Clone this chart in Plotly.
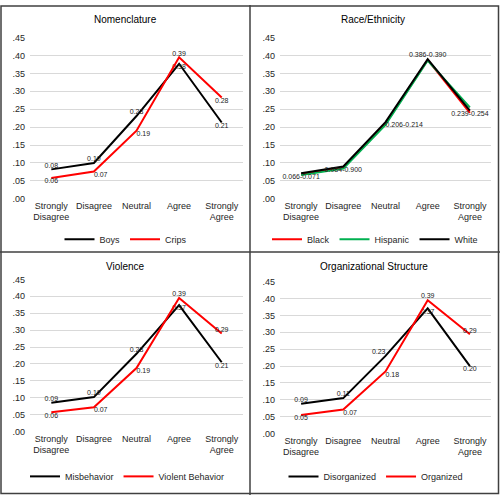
import plotly.graph_objects as go
from plotly.subplots import make_subplots

categories = ["Strongly<br>Disagree", "Disagree", "Neutral", "Agree", "Strongly<br>Agree"]
y_tickvals = [0, 0.05, 0.10, 0.15, 0.20, 0.25, 0.30, 0.35, 0.40, 0.45]
y_ticktext = [".00", ".05", ".10", ".15", ".20", ".25", ".30", ".35", ".40", ".45"]

# Nomenclature
boys = [0.082, 0.100, 0.231, 0.377, 0.213]
boys_text = ["0.08", "0.10", "0.23", "0.38", "0.21"]
crips = [0.058, 0.076, 0.190, 0.395, 0.283]
crips_text = ["0.06", "0.07", "0.19", "0.39", "0.28"]

# Race/Ethnicity
black = [0.068, 0.087, 0.210, 0.388, 0.240]
hispanic = [0.066, 0.084, 0.206, 0.386, 0.255]
white = [0.071, 0.090, 0.214, 0.390, 0.246]
race_text = ["0.066-0.071", "0.084-0.900", "0.206-0.214", "0.386-0.390", "0.239-0.254"]

# Violence
misbehavior = [0.085, 0.102, 0.230, 0.374, 0.205]
misbehavior_text = ["0.09", "0.10", "0.23", "0.37", "0.21"]
violent = [0.057, 0.072, 0.188, 0.395, 0.290]
violent_text = ["0.06", "0.07", "0.19", "0.39", "0.29"]

# Organizational Structure
disorganized = [0.088, 0.105, 0.230, 0.371, 0.200]
disorganized_text = ["0.09", "0.11", "0.23", "0.37", "0.20"]
organized = [0.055, 0.071, 0.184, 0.395, 0.294]
organized_text = ["0.05", "0.07", "0.18", "0.39", "0.29"]

titles = ["Nomenclature", "Race/Ethnicity", "Violence", "Organizational Structure"]

RED = "#ff0000"
BLACK = "#000000"
GREEN = "#00b050"
FONT = "Liberation Sans"

fig = make_subplots(rows=2, cols=2)


def line(y, name, color, row, col, legend, text=None, pos=None):
    fig.add_trace(
        go.Scatter(
            x=categories, y=y, name=name,
            mode="lines+text" if text else "lines",
            line=dict(color=color, width=2),
            text=text, textposition=pos,
            textfont=dict(size=7, color="#222", family=FONT),
            legend=legend, hoverinfo="skip",
        ),
        row=row, col=col,
    )


line(boys, "Boys", BLACK, 1, 1, "legend", boys_text,
     ["top center", "top center", "top center", "bottom center", "bottom center"])
line(crips, "Crips", RED, 1, 1, "legend", crips_text,
     ["bottom center", "bottom right", "bottom right", "top center", "bottom center"])

line(black, "Black", RED, 1, 2, "legend2")
line(hispanic, "Hispanic", GREEN, 1, 2, "legend2")
line(white, "White", BLACK, 1, 2, "legend2", race_text,
     ["bottom center", "bottom center", "bottom right", "top center", "bottom center"])

line(misbehavior, "Misbehavior", BLACK, 2, 1, "legend3", misbehavior_text,
     ["top center", "top center", "top center", "bottom center", "bottom center"])
line(violent, "Violent Behavior", RED, 2, 1, "legend3", violent_text,
     ["bottom center", "bottom right", "bottom right", "top center", "top center"])

line(disorganized, "Disorganized", BLACK, 2, 2, "legend4", disorganized_text,
     ["top center", "top center", "top left", "bottom center", "bottom center"])
line(organized, "Organized", RED, 2, 2, "legend4", organized_text,
     ["bottom center", "bottom right", "bottom right", "top center", "top center"])

# domains measured in pixels on a 500x500 page
x_dom = [[0.06, 0.486], [0.56, 0.982], [0.06, 0.486], [0.56, 0.982]]
y_dom = [[0.6046, 0.9334], [0.6046, 0.9334], [0.1294, 0.44], [0.1254, 0.4354]]

for i in range(4):
    s = "" if i == 0 else str(i + 1)
    fig.layout["xaxis" + s].update(
        domain=x_dom[i], type="category", range=[-0.5, 4.5],
        showgrid=False, zeroline=False, showline=False, ticks="",
        tickfont=dict(size=9, color="#262626", family=FONT),
    )
    fig.layout["yaxis" + s].update(
        domain=y_dom[i], range=[0, 0.45], tickvals=y_tickvals, ticktext=y_ticktext,
        showgrid=True, gridcolor="#d9d9d9", gridwidth=1, zeroline=False,
        showline=False, ticks="", ticklabelstandoff=4,
        tickfont=dict(size=9, color="#262626", family=FONT),
    )

title_pos = [(0.25, 0.97), (0.746, 0.97), (0.25, 0.466), (0.748, 0.466)]
for t, (x, y) in zip(titles, title_pos):
    fig.add_annotation(x=x, y=y, xref="paper", yref="paper", text=t, showarrow=False,
                       xanchor="center", yanchor="middle",
                       font=dict(size=10, color="#000", family=FONT))

leg = dict(orientation="h", xanchor="center", yanchor="middle",
           font=dict(size=9, color="#262626", family=FONT),
           bgcolor="rgba(0,0,0,0)", itemwidth=30, tracegroupgap=0)
fig.update_layout(
    legend=dict(leg, x=0.252, y=0.522),
    legend2=dict(leg, x=0.75, y=0.522),
    legend3=dict(leg, x=0.254, y=0.038),
    legend4=dict(leg, x=0.752, y=0.038),
)

# panel borders
border = dict(color="#404040", width=1.5)
fig.add_shape(type="rect", xref="paper", yref="paper", x0=0.002, y0=0.003, x1=0.997, y1=0.998, line=border)
fig.add_shape(type="line", xref="paper", yref="paper", x0=0.5, y0=0, x1=0.5, y1=1, line=border)
fig.add_shape(type="line", xref="paper", yref="paper", x0=0, y0=0.496, x1=1, y1=0.496, line=border)

fig.update_layout(
    autosize=True,
    margin=dict(l=0, r=0, t=0, b=0),
    paper_bgcolor="white", plot_bgcolor="white",
    font=dict(family=FONT),
)

# let the figure fill the whole viewport, whatever the page adds around it
pin = ("var d=document.getElementById('{plot_id}');"
       "d.style.position='fixed';d.style.top='0px';d.style.left='0px';"
       "document.body.style.margin='0px';document.body.style.overflow='hidden';"
       "Plotly.Plots.resize(d);")
fig.write_html("out.html", config={"displayModeBar": False, "responsive": True},
               default_width="100vw", default_height="100vh", post_script=pin)
